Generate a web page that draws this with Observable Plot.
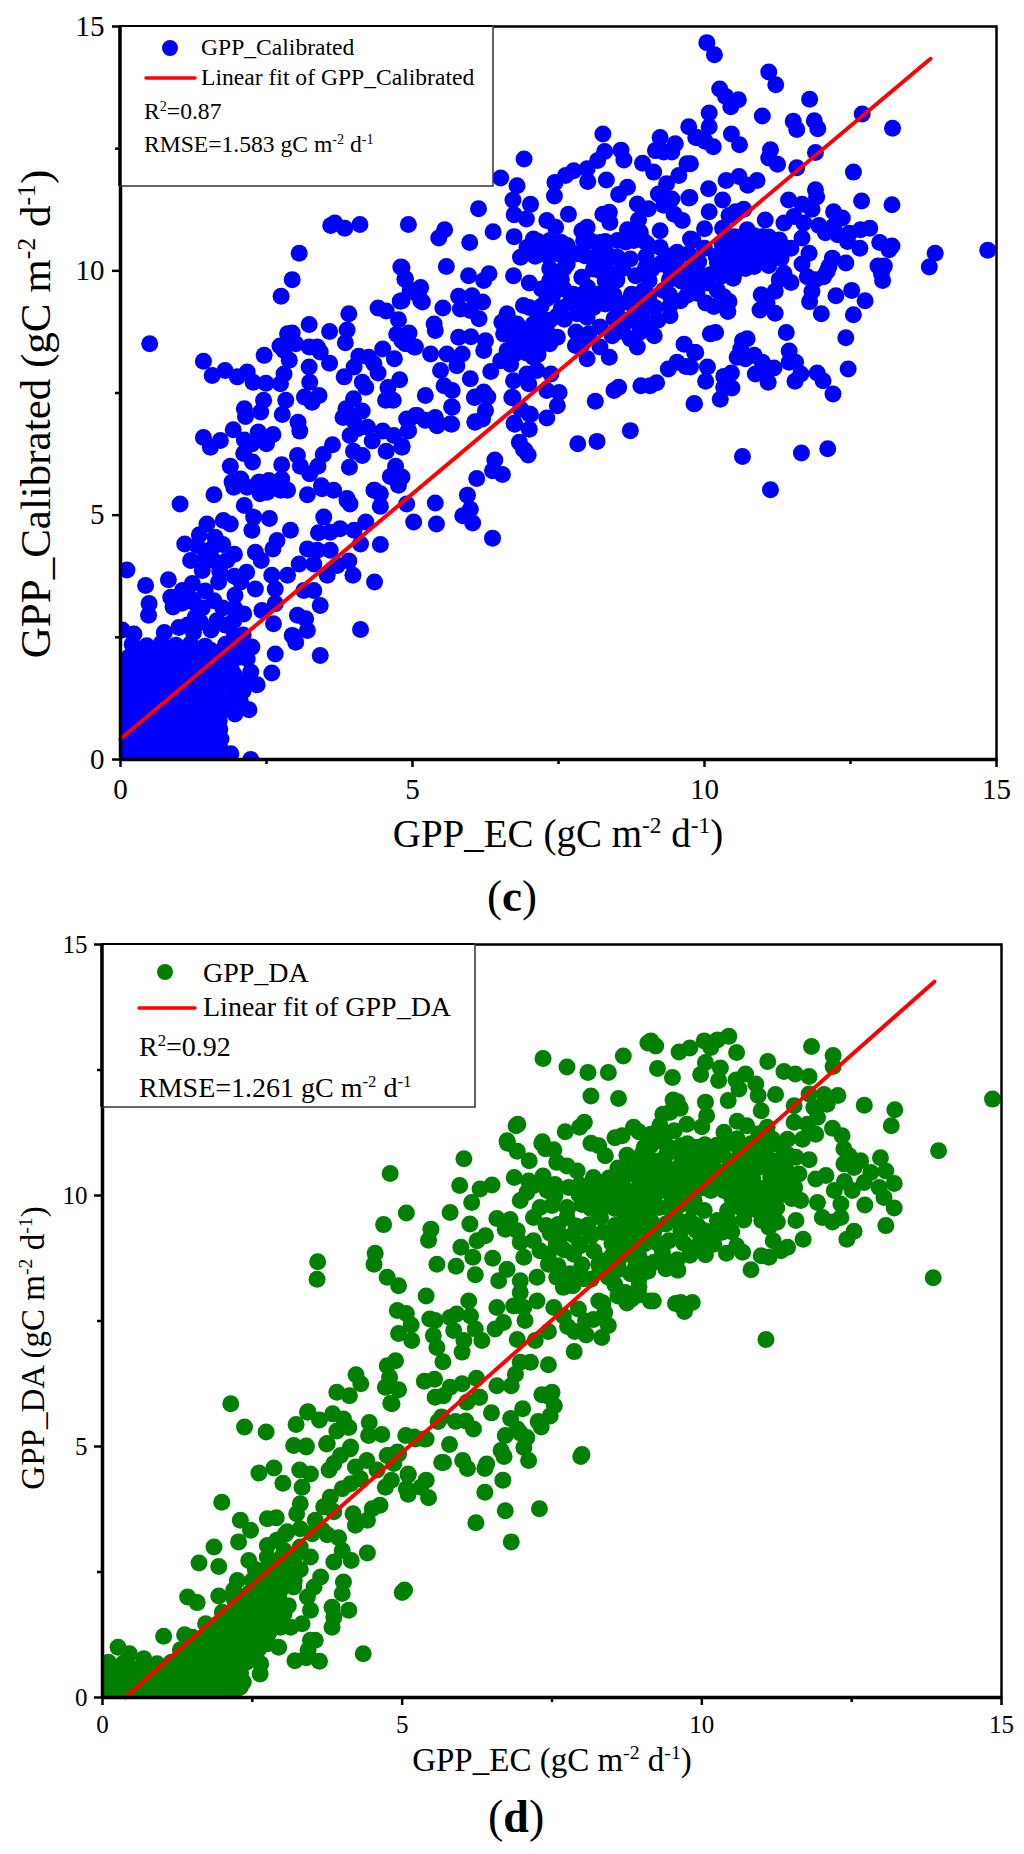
<!DOCTYPE html>
<html><head><meta charset="utf-8">
<script src="https://cdn.jsdelivr.net/npm/d3@7"></script>
<script src="https://cdn.jsdelivr.net/npm/@observablehq/plot@0.6"></script>
<style>
html,body{margin:0;padding:0;background:#fff;width:1024px;height:1854px;overflow:hidden}
#c,#d{position:absolute;left:0}
#c{top:0}#d{top:930px}
.tag{position:absolute;font-family:"Liberation Serif",serif;color:#000;line-height:1}
</style></head><body>
<div id="c"></div><div id="d"></div>
<div class="tag" style="left:487px;top:874px;font-size:45px">(<b>c</b>)</div>
<div class="tag" style="left:488px;top:1794px;font-size:46px">(<b>d</b>)</div>
<script>
const ticks=[0,5,10,15];
const minorTicks=[2.5,7.5,12.5];
const fitCalX=[0,13.87], fitCalY=[0.42,14.34];
const fitDAX=[0.38,13.88], fitDAY=[0,14.26];

const gppCalibrated=[
[0.5,8.51],[1.42,8.15],[1.57,7.86],[1.79,7.96],[2.0,7.83],[2.17,7.93],[2.27,7.72],[2.49,7.7],[2.74,7.69],[2.8,7.89],[2.46,8.27],[2.89,8.17],[2.8,8.37],[2.73,8.46],[2.86,8.71],[2.94,8.73],[3.0,8.51],[2.75,9.48],[2.94,9.82],[3.06,10.36],[3.23,8.9],[3.23,8.44],[3.37,8.44],[3.42,8.34],[3.23,8.03],[3.58,8.11],[3.58,8.76],[3.88,8.79],[3.85,8.53],[3.91,9.12],[3.6,10.93],[3.67,10.98],[3.84,10.87],[4.1,10.95],[4.93,10.95],[4.8,10.08],[4.88,9.84],[4.96,9.6],[5.11,9.6],[5.14,9.39],[4.79,9.38],[4.41,9.24],[4.55,9.18],[4.76,9.0],[4.73,8.7],[4.94,8.73],[4.88,8.51],[5.03,8.44],[4.49,8.4],[4.69,8.2],[4.08,8.25],[4.25,8.23],[4.41,7.91],[4.34,8.1],[4.0,8.03],[3.83,7.83],[4.14,7.72],[4.2,7.62],[4.78,7.77],[4.58,7.61],[4.54,7.35],[4.67,7.35],[3.24,7.72],[3.15,7.42],[3.4,7.45],[3.28,7.31],[2.83,7.35],[2.77,7.06],[2.45,7.35],[2.4,7.11],[2.12,7.18],[2.14,7.02],[3.99,7.38],[3.86,7.18],[4.14,7.13],[3.81,7.0],[3.99,6.94],[4.23,6.8],[4.06,6.77],[3.93,6.63],[4.31,6.52],[4.49,6.72],[4.68,6.63],[4.93,6.73],[4.93,6.94],[5.08,7.04],[4.82,6.39],[4.55,6.31],[3.99,6.31],[4.14,6.22],[3.92,5.98],[3.63,6.44],[3.47,6.24],[3.38,6.0],[3.24,5.85],[3.03,6.22],[3.08,6.0],[2.76,6.03],[3.04,6.9],[3.07,6.72],[1.93,6.75],[1.42,6.59],[1.71,6.53],[1.54,6.39],[2.12,6.54],[2.25,6.46],[2.36,6.7],[2.61,6.65],[2.5,6.46],[2.11,6.26],[2.26,6.09],[1.88,6.0],[2.06,5.74],[1.91,5.68],[2.17,5.57],[2.37,5.68],[2.54,5.71],[2.76,5.74],[2.86,5.51],[2.51,5.47],[1.6,5.42],[1.02,5.23],[3.2,5.42],[3.44,5.6],[3.65,5.51],[3.88,5.34],[4.35,5.51],[4.45,5.44],[4.71,6.0],[4.62,5.79],[4.82,5.78],[4.76,5.61],
[6.91,12.29],[6.51,11.9],[6.79,11.74],[6.72,11.45],[7.02,11.36],[6.74,11.15],[6.95,11.06],[6.13,11.27],[5.55,10.84],[5.45,10.67],[5.98,10.58],[6.38,10.8],[6.74,10.7],[7.07,10.65],[7.3,11.03],[7.45,10.89],[7.67,11.16],[7.43,11.53],[7.44,11.81],[7.62,11.95],[7.76,12.05],[7.99,12.09],[8.0,11.83],[8.17,12.26],[8.29,12.44],[8.57,12.47],[8.62,12.27],[8.26,12.8],[8.32,11.86],[8.68,11.71],[8.53,11.56],[8.94,12.2],[9.13,12.02],[9.24,12.73],[9.5,12.6],[9.16,12.46],[9.3,12.43],[9.44,12.43],[9.85,12.73],[9.7,12.19],[9.56,11.95],[9.35,11.78],[9.21,11.57],[9.73,11.49],[9.44,11.47],[8.85,11.37],[9.04,11.27],[9.3,11.34],[9.48,11.16],[9.62,11.03],[8.37,11.2],[8.26,11.16],[8.38,10.99],[8.87,11.04],[8.68,10.84],[7.99,10.89],[7.9,10.82],[9.24,10.82],[8.9,10.79],[9.02,10.55],[8.79,10.62],[8.51,10.62],[8.21,10.58],[7.93,10.62],[7.65,10.52],[7.3,10.52],[6.96,10.48],[6.85,10.28],[7.19,10.41],[7.48,10.35],[7.82,10.35],[8.33,10.35],[8.51,10.28],[8.73,10.24],[9.24,10.48],[9.53,10.38],[9.76,10.65],[9.73,10.35],[9.9,10.18],[9.24,10.14],[8.99,10.07],[8.82,9.9],[9.7,10.0],[7.48,9.94],[7.65,10.14],[7.9,9.87],[8.21,10.0],[8.45,9.94],[8.39,9.66],[8.21,9.53],[6.73,9.9],[7.0,9.75],[5.58,10.09],[5.96,9.9],[6.31,9.94],[6.22,9.8],[7.21,9.63],[7.59,9.63],[7.93,9.53],[7.3,9.43],[7.7,9.36],[8.02,9.39],[8.3,9.32],[8.68,9.36],[8.96,9.6],[9.3,9.6],[9.59,9.39],[9.41,9.08],[8.96,9.32],[5.79,9.48],[6.02,9.49],[6.2,9.36],[5.82,9.22],[6.14,9.02],[5.99,9.19],[5.52,9.24],[5.14,9.66],[5.17,9.36],[5.03,9.56],[4.82,10.07],[4.87,9.83],[4.82,9.39],[5.37,8.91],[5.39,8.78],[5.79,8.64],[6.0,8.65],[6.25,8.57],[6.22,8.37],[4.93,8.71],[5.05,8.44],[4.82,8.57],[5.31,8.3],[5.59,8.3],[5.85,8.3],[5.76,8.06],[5.48,7.96],[6.62,9.12],[6.53,8.95],[6.9,9.29],[6.56,8.71],[6.79,8.91],[7.07,8.91],[7.48,9.08],[7.82,9.12],[7.99,9.05],[7.3,8.91],[7.48,8.64],[6.96,8.64],[7.19,8.64],[6.73,8.5],[6.62,8.37],[7.79,8.47],[8.02,8.71],[8.21,8.85],[8.45,9.02],[8.42,8.67],[8.79,8.98],[9.02,8.85],[9.14,8.67],[8.73,8.61],[8.85,8.44],[8.21,8.44],[8.37,8.23],[7.99,8.2],[9.65,8.5],[9.83,8.33],[9.68,8.04],[9.53,8.13],[9.38,7.99],[9.18,7.71],[9.07,7.65],[8.91,7.65],[8.53,7.62],[8.45,7.55],[8.13,7.33],[9.82,7.28],[8.73,6.73],[8.16,6.51],[7.83,6.46],[6.51,8.16],[6.34,7.94],[5.99,7.79],[5.54,7.65],[5.68,7.55],[5.22,7.45],[6.22,7.52],[6.07,7.42],[6.29,7.42],[5.68,7.21],[6.25,7.14],[6.07,6.9],[5.65,6.87],[5.39,7.0],[5.22,6.94],[5.42,6.83],[5.05,7.04],[4.9,6.97],[4.93,6.73],[4.82,6.42],[6.68,8.09],[6.73,7.75],[6.7,7.41],[6.96,7.89],[7.07,8.23],[7.13,7.96],[6.99,7.69],[7.37,7.89],[7.3,7.55],[7.51,7.51],[7.48,7.24],[7.0,7.07],[7.3,6.99],[6.74,6.88],[7.0,6.76],[6.83,6.49],[6.93,6.32],
[6.98,6.23],[6.9,6.35],[6.75,6.86],[6.41,6.13],[6.37,5.91],[6.54,5.83],[6.1,5.75],[5.94,5.41],[5.99,5.12],[5.86,4.99],[6.03,4.84],[6.37,4.53],[5.39,5.25],[5.41,4.82],[5.39,6.97],[5.67,6.86],[5.67,7.22],[6.07,6.91],[6.2,6.97],[6.06,7.41],[6.72,7.41],[7.02,7.06],[6.85,7.17],
[10.04,14.67],[10.17,14.42],[11.1,14.07],[11.22,13.81],[10.26,13.72],[10.36,13.57],[10.58,13.5],[10.45,13.36],[11.8,13.51],[10.08,13.23],[10.99,13.17],[11.52,13.06],[11.58,12.89],[11.88,13.07],[11.94,12.91],[12.7,13.21],[13.22,12.92],[10.08,12.95],[9.73,12.95],[9.87,12.73],[10.01,12.65],[10.15,12.54],[10.46,12.8],[10.6,12.58],[11.13,12.48],[11.1,12.31],[11.25,12.18],[11.9,12.42],[11.58,12.11],[12.55,12.02],[10.37,11.85],[10.59,11.93],[10.74,11.75],[10.9,11.85],[9.76,12.19],[10.07,11.68],[9.75,11.5],[10.31,11.45],[11.9,11.66],[11.92,11.51],[11.44,11.45],[11.67,11.36],[11.84,11.26],[12.69,11.43],[13.21,11.35],[10.08,11.21],[10.42,11.13],[10.53,11.21],[10.67,11.26],[11.04,11.04],[11.36,10.98],[11.53,11.11],[11.7,10.98],[12.21,11.21],[12.36,11.08],[12.21,10.91],[11.96,10.93],[12.07,10.78],[10.0,10.86],[10.31,10.87],[9.8,10.63],[10.0,10.46],[10.73,10.84],[10.51,10.7],[10.99,10.7],[11.28,10.63],[11.67,10.67],[12.28,10.74],[12.48,10.77],[12.67,10.84],[12.83,10.87],[13.0,10.58],[13.21,10.51],[13.16,10.43],[12.66,10.46],[12.45,10.6],[12.19,10.26],[12.42,10.16],[11.79,10.36],[11.48,10.46],[11.18,10.43],[10.9,10.5],[10.62,10.5],[10.34,10.36],[10.22,10.16],[10.45,10.22],[10.7,10.05],[10.99,10.22],[11.31,10.26],[11.67,10.14],[12.13,10.09],[12.1,9.99],[11.76,9.88],[11.9,9.82],[12.04,9.88],[10.49,9.85],[10.34,9.99],[11.36,9.95],[11.28,9.82],[11.48,9.76],[11.21,9.58],[11.84,9.58],[11.8,9.37],[10.97,9.51],[10.95,9.2],[11.07,9.34],[11.21,9.13],[12.52,9.6],[12.25,9.49],[12.75,9.39],[12.0,9.12],[12.55,9.1],[13.05,9.8],[12.97,10.1],[13.08,10.1],[13.03,9.95],
[13.95,10.36],[13.85,10.08],[14.85,10.42],
[10.1,8.71],[10.19,8.74],[9.85,8.33],[10.05,8.03],[10.02,7.74],[9.83,7.28],[10.27,7.37],[10.47,7.6],[10.33,7.62],[10.33,7.84],[10.46,7.91],[10.65,8.57],[10.73,8.61],[10.62,8.4],[10.56,8.23],[10.7,8.2],[10.85,8.27],[10.99,8.13],[10.87,7.89],[11.09,7.72],[11.19,8.01],[11.05,7.93],[11.4,8.74],[11.45,8.36],[11.45,8.13],[11.56,8.13],[11.65,7.89],[11.55,7.74],[11.93,7.91],[12.03,7.75],[12.2,7.48],[12.42,8.63],[12.46,7.99],[9.76,8.03],[10.65,6.2],[11.13,5.52],[11.66,6.27],[12.11,6.36],
[9.76,9.6],[9.93,9.75],[10.05,9.75],[10.22,9.6],[10.33,9.47],[10.42,9.37],[10.4,9.17],[10.16,9.27],[10.02,9.34],[9.87,9.54],
[0.11,3.88],[0.43,3.56],[0.82,3.68],[0.49,3.19],[0.48,2.95],[0.03,2.65],[0.23,2.57],[2.12,5.2],[1.48,4.82],[1.76,4.89],[1.88,4.82],[1.62,4.55],[1.1,4.41],[1.31,4.38],[1.2,4.07],[1.59,4.07],[1.82,4.07],[1.4,3.87],[1.68,3.63],[1.06,3.46],[1.23,3.6],[0.86,3.32],[0.9,3.12],[1.25,3.22],[1.6,3.25],[1.28,2.91],[1.37,2.81],[1.65,2.84],[1.96,3.36],[2.11,2.98],[1.94,2.84],[2.16,3.83],[2.06,3.63],[2.31,3.49],[2.25,4.69],[2.28,4.96],[2.55,4.93],[2.91,4.69],[2.68,4.48],[2.61,4.31],[2.31,4.24],[2.41,4.07],[2.59,3.77],[2.86,3.77],[2.65,3.49],[2.42,3.05],[2.65,3.19],[2.62,2.78],[3.03,2.95],[3.17,2.88],[3.2,2.64],[3.0,2.4],[2.94,2.54],[2.65,2.16],[2.59,1.77],[2.34,1.53],[2.2,1.02],[1.96,0.93],[2.23,0.0],[2.17,2.06],[2.23,1.79],[1.94,1.34],[1.69,0.8],[1.72,0.42],[1.89,0.12],[3.42,2.13],[4.11,2.66],[4.35,3.63],[3.42,3.15],[3.31,3.46],[3.14,3.46],[3.06,4.0],[3.2,4.31],[3.37,4.28],[3.59,4.28],[3.39,4.64],[3.59,4.65],[3.48,4.96],[3.76,4.72],[4.2,4.86],[4.0,4.69],[4.11,4.41],[4.45,4.4],[3.91,4.06],[3.98,3.77],[3.54,3.77],[3.31,4.0],[3.71,3.97],[3.45,5.54],[3.88,5.3],[3.93,5.23],[4.34,5.51],[4.45,5.18],[4.9,5.23],[5.02,4.86],[2.74,5.51],[2.39,5.44],[1.94,5.57]
];
const gppCalibratedCluster=[
[0.05,0.1],[0.3,0.13],[0.55,0.08],[0.8,0.12],[1.05,0.09],[1.3,0.14],[1.55,0.07],[1.75,0.11],[0.1,0.36],[0.35,0.33],[0.6,0.38],[0.85,0.34],[1.1,0.37],[1.35,0.32],[1.6,0.36],[0.05,0.6],[0.3,0.63],[0.55,0.58],[0.8,0.62],[1.05,0.59],[1.3,0.64],[1.5,0.6],[0.1,0.86],[0.35,0.83],[0.6,0.88],[0.85,0.84],[1.1,0.87],[1.35,0.82],[1.6,0.86],[0.05,1.1],[0.3,1.13],[0.55,1.08],[0.8,1.12],[1.05,1.09],[1.3,1.14],[1.55,1.07],[1.8,1.11],[0.1,1.36],[0.35,1.33],[0.6,1.38],[0.85,1.34],[1.1,1.37],[1.35,1.32],[1.6,1.36],[1.85,1.6],[0.05,1.6],[0.3,1.63],[0.55,1.58],[0.8,1.62],[1.05,1.59],[1.3,1.64],[1.55,1.57],[1.8,1.61],[2.05,1.58],[0.1,1.86],[0.35,1.83],[0.6,1.88],[0.85,1.84],[1.1,1.87],[1.35,1.82],[1.6,1.86],[1.9,1.84],[0.15,2.1],[0.4,2.13],[0.65,2.08],[0.9,2.12],[1.15,2.09],[1.4,2.14],[1.65,2.07],[1.9,2.11],[0.2,2.36],[0.45,2.33],[0.7,2.38],[0.95,2.34],[1.2,2.37],[1.45,2.32],[1.8,2.36],[2.0,2.3],
[0.2,0.22],[0.45,0.23],[0.7,0.21],[0.95,0.24],[1.2,0.22],[1.45,0.23],[1.7,0.25],[0.2,0.48],[0.45,0.47],[0.7,0.49],[0.95,0.46],[1.2,0.48],[1.45,0.47],[0.2,0.72],[0.45,0.74],[0.7,0.71],[0.95,0.73],[1.2,0.72],[1.45,0.74],[1.7,0.62],[0.2,0.98],[0.45,0.97],[0.7,0.99],[0.95,0.98],[1.2,0.96],[1.45,0.98],[1.7,0.97],[0.2,1.22],[0.45,1.23],[0.7,1.21],[0.95,1.24],[1.2,1.22],[1.45,1.23],[1.7,1.22],[0.2,1.48],[0.45,1.47],[0.7,1.49],[0.95,1.46],[1.2,1.48],[1.45,1.47],[1.7,1.49],[1.95,1.55],[0.2,1.72],[0.45,1.73],[0.7,1.74],[0.95,1.72],[1.2,1.71],[1.45,1.73],[1.7,1.72],[1.95,1.73],[0.2,1.98],[0.5,1.97],[0.75,1.99],[1.0,1.98],[1.25,1.96],[1.5,1.98],[1.75,1.97],[0.3,2.22],[0.55,2.23],[0.8,2.21],[1.05,2.24],[1.3,2.22],[1.55,2.23],[1.8,2.22],
[1.35,4.6],[1.55,4.3],[1.75,4.4],[1.95,4.2],[1.45,4.15],[1.7,3.85],[1.95,3.75],[1.2,3.3],[1.45,3.45],[1.75,3.1],[1.95,3.1],[1.4,3.1],[1.05,3.2],[1.15,2.75],[1.8,2.75],[2.1,2.55],[1.95,2.55],[1.55,2.65],[1.0,2.7],[0.75,2.6],[1.25,2.6],[2.25,2.3],[2.05,2.1],[2.2,1.6],[2.1,1.4],[2.05,1.2]
];
const gppCalibratedDense=[
[7.15,10.6],[7.35,10.62],[7.55,10.58],[8.05,10.61],[8.3,10.6],[8.65,10.59],[8.95,10.62],[7.1,10.3],[7.3,10.32],[7.6,10.29],[7.95,10.31],[8.15,10.3],[8.4,10.28],[9.0,10.3],[9.35,10.31],[9.55,10.29],[7.35,10.05],[7.6,10.06],[8.1,10.04],[8.3,10.07],[8.6,10.05],[9.1,10.04],[9.4,10.06],[9.55,10.05],[7.35,9.8],[7.55,9.82],[8.3,9.79],[8.5,9.81],[9.05,9.8],[9.4,9.82],[9.6,9.79],[9.85,9.8],[7.4,9.5],[7.75,9.52],[8.0,9.66],[8.45,9.5],[8.75,9.52],[9.05,9.49],[9.4,9.51],[9.7,9.5],[7.0,9.25],[7.2,9.27],[7.55,9.24],[7.85,9.26],[8.1,9.25],[8.5,9.24],[8.8,9.26],[9.15,9.25],[9.4,9.27],[6.65,9.0],[7.15,9.02],[7.35,8.99],[7.6,9.01],[8.6,9.0],[8.95,9.02],[9.2,8.99],[6.7,8.75],[6.9,8.77],[7.1,8.74],[7.3,8.76],[7.8,8.75],[8.45,8.74],[8.6,8.76],[8.9,8.75],[6.85,8.5],[7.0,8.52],[7.2,8.49],[7.35,8.51],[7.9,8.48],[6.75,8.3],[6.95,8.32],[7.15,8.29],
[10.65,10.7],[10.85,10.72],[11.1,10.69],[10.3,10.55],[10.45,10.57],[10.75,10.54],[11.05,10.56],[11.3,10.55],[10.2,10.3],[10.5,10.32],[10.75,10.29],[11.05,10.31],[10.35,10.1],[10.55,10.12],[10.85,10.09],[11.1,10.11],[10.3,9.9],[10.5,9.92],[9.95,9.9],[10.1,9.92]
];

const gppDA=[
[9.15,13.08],[9.23,12.98],[9.62,12.86],[9.8,12.94],[10.04,13.08],[10.26,13.1],[10.45,13.17],[10.15,12.95],[10.58,12.85],[10.06,12.65],[10.31,12.54],[9.98,12.41],[10.28,12.29],[11.1,12.67],[11.83,12.97],[12.19,12.79],[12.19,12.57],[11.37,12.47],[11.56,12.42],[11.79,12.37],[9.26,12.53],[9.51,12.35],[10.73,12.42],[10.57,12.3],[10.9,12.22],[10.62,12.12],[10.94,11.99],[11.23,12.01],[10.44,11.89],[10.06,11.86],[9.59,11.87],[9.52,11.9],[9.47,11.66],[10.08,11.59],[10.0,11.37],[10.99,11.69],[10.59,11.48],[10.37,11.26],[11.79,12.02],[12.04,12.01],[12.27,11.99],[11.54,11.79],[11.87,11.76],[12.09,11.82],[12.71,11.8],[13.22,11.71],[13.16,11.39],[13.95,10.89],[14.85,11.92],[13.86,8.36],[11.93,11.56],[11.54,11.46],[11.76,11.42],[11.09,11.36],[10.95,11.23],[11.9,11.22],[12.18,11.34],[12.34,11.19],[11.68,11.12],[11.43,11.12],[11.18,11.12],[12.37,10.93],[11.57,10.76],[11.79,10.71],[12.98,10.75],[12.65,10.69],[12.46,10.79],[12.37,10.63],[12.54,10.56],[12.82,10.46],[13.07,10.49],[13.21,10.24],[12.96,10.16],[13.04,9.96],[13.21,9.75],[13.07,9.4],[12.72,9.81],[12.38,10.28],[12.71,10.26],[12.07,10.4],[11.9,10.33],[12.21,10.1],[12.51,10.1],[11.65,9.9],[11.93,9.86],[12.32,9.83],[12.01,9.56],[12.18,9.47],[12.32,9.56],[11.57,9.5],[12.54,9.29],[12.42,9.13],[11.69,9.13],[11.26,9.47],[11.12,9.37],[11.19,9.1],[11.43,8.97],[11.32,8.9],[10.99,8.8],[11.12,8.77],[10.82,8.52],[10.68,8.87],[10.58,9.0],[10.41,8.85],[10.06,8.82],[10.2,9.03],[10.34,9.27],[10.15,9.23],[10.26,9.5],[10.04,9.7],[9.93,9.4],[10.43,9.7],[10.93,9.7],[11.15,9.83],[11.43,10.03],[11.2,10.1],[10.93,10.1],[10.65,10.03],[10.37,10.1],[10.15,10.1],[9.87,9.9],[9.65,9.3],[9.45,9.1],[9.34,8.9],[9.59,8.72],[9.4,8.54],[9.2,8.67],[8.98,8.7],[8.95,8.17],[9.19,7.9],[9.56,7.85],[9.65,7.87],[9.84,7.87],[9.71,7.69],[9.4,9.43],[9.62,9.8],[9.29,9.76],[9.09,9.7],[9.31,10.1],[9.09,10.1],[9.59,10.16],[9.87,10.23],[10.18,10.3],[10.48,10.3],[10.7,10.4],[11.15,10.36],[11.43,10.3],[11.62,10.43],[11.26,10.69],[11.07,10.83],[10.82,10.76],[10.54,10.69],[10.2,10.83],[9.93,10.96],[9.76,11.03],[9.54,11.29],[9.15,11.22],[9.04,10.96],[9.31,11.16],[9.54,10.93],[9.2,10.69],[9.7,10.69],[10.04,10.63],[9.48,10.5],[9.2,10.36],[10.59,11.13],[10.82,11.03],[10.37,10.99],
[6.93,11.42],[7.96,11.36],[6.75,11.09],[6.92,10.88],[7.12,10.69],[7.34,11.07],[7.39,10.93],[7.53,10.91],[6.03,10.73],[4.8,10.44],[5.96,10.2],[6.5,10.21],[6.3,10.13],[6.16,9.86],[6.87,10.36],[7.11,10.29],[7.35,10.39],[7.58,10.66],[7.75,10.59],[7.92,10.49],[8.28,10.99],[8.39,10.79],[8.67,11.19],[8.86,11.36],[6.97,9.9],[7.08,10.06],[7.42,10.1],[7.3,9.76],[7.19,9.56],[7.78,10.16],[7.75,9.76],[8.19,10.36],[8.58,10.23],[8.42,9.96],[8.81,10.49],[5.8,9.66],[5.07,9.65],[4.69,9.42],[5.48,9.33],[5.44,9.11],[6.13,9.43],[6.39,9.2],[6.25,9.1],[5.98,8.97],[6.18,8.77],[6.51,8.75],[6.58,9.54],[6.8,9.52],[6.72,9.33],[6.92,9.3],[7.19,9.1],[7.47,9.25],[6.97,9.07],[7.03,8.77],[7.44,8.83],[7.75,9.56],[8.03,9.37],[8.31,9.56],[8.64,9.37],[7.97,9.0],[7.86,8.83],[8.86,9.03],[8.39,8.7],[8.28,8.63],[4.55,8.85],[4.53,8.63],[3.59,8.68],[3.58,8.33],[5.58,8.63],[5.9,8.59],[6.22,8.42],[4.75,8.37],[4.94,8.2],[5.4,8.0],[6.61,8.3],[6.75,8.53],[6.97,8.3],[6.97,8.07],[7.25,8.37],[7.44,8.63],[7.58,8.37],[7.69,8.17],[7.8,8.44],[8.03,8.34],[8.44,8.37],[8.81,8.44],[8.72,8.07],[8.83,7.94],[6.11,7.9],[6.58,7.77],[6.86,7.8],[7.25,7.9],[7.03,7.77],[7.05,7.51],[7.53,7.77],[7.94,7.74],[7.69,7.6],[8.28,7.9],[8.38,7.67],[8.19,7.53],[8.44,7.41],[8.33,7.17],[7.88,7.29],[8.07,7.22],[7.87,6.89],[4.92,7.71],[5.07,7.65],[5.15,7.42],[4.94,7.25],[5.16,7.11],[5.46,7.54],[5.55,7.51],[5.52,7.21],[5.58,6.97],[5.68,6.69],[5.8,7.57],[5.91,7.64],[6.14,7.6],[5.86,7.31],[6.03,7.11],[6.0,6.88],[6.22,7.34],[6.33,7.11],[6.55,7.34],[6.69,7.47],[6.92,7.13],[7.22,7.11],[7.44,7.29],[6.97,6.68],[7.14,6.68],[7.44,6.63],[6.89,6.44],[6.82,6.21],[4.89,6.71],[4.75,6.61],[4.79,6.38],[4.94,6.13],[4.72,6.18],[4.81,5.86],[4.23,6.43],[4.31,6.25],[3.91,6.08],[4.12,6.01],[5.37,6.3],[5.54,6.34],[5.55,5.98],[5.69,6.01],[5.8,6.18],[6.0,6.25],[6.24,6.36],[6.29,5.98],[6.08,5.88],[7.33,6.03],[7.5,6.08],[7.54,5.81],[7.47,5.61],[7.32,5.39],[7.01,5.75],[6.81,5.56],[6.49,5.67],[5.66,5.59],[6.06,5.51],[6.19,5.35],[6.92,5.35],[6.72,5.22],[7.08,5.18],[7.03,4.98],[6.65,4.92],[8.0,4.84],[3.42,5.68],[3.62,5.53],[3.84,5.65],[4.02,5.55],[3.91,5.31],[4.11,5.38],[4.45,5.48],[4.44,5.22],[4.66,5.24],[5.22,5.15],[5.37,5.15],[3.4,4.99],[3.74,5.05],[4.13,4.95],[3.97,4.82],[4.77,4.82],[4.94,4.85],[5.66,4.68],[6.01,4.72],[6.41,4.65],[7.11,4.72],[4.41,4.72],
[2.14,5.85],[2.37,5.39],[2.73,5.29],[3.23,5.44],[3.43,5.69],[4.83,5.85],[5.2,5.19],[3.75,5.06],[3.19,5.02],[3.4,5.01],[4.14,4.99],[3.86,4.66],[3.78,4.53],[4.22,4.59],[4.75,4.82],[4.92,4.89],[4.86,4.66],[4.58,4.53],[4.3,4.36],[4.14,4.26],[4.72,4.19],[4.82,4.33],[5.1,4.43],[5.07,4.16],[5.31,4.19],[2.61,4.47],[2.86,4.57],[3.01,4.27],[3.29,4.53],[3.47,4.45],[3.33,4.19],[3.3,3.86],[3.24,3.66],[3.8,3.99],[4.0,4.16],[3.69,3.8],[4.63,3.83],[4.5,3.76],[4.18,3.66],[4.42,3.53],[4.22,3.43],[3.86,3.7],[3.55,3.53],[3.3,3.36],[3.67,3.33],[1.99,3.89],[2.3,3.53],[2.47,3.33],[2.75,3.56],[2.9,3.58],[3.08,3.3],[2.27,3.1],[1.86,3.0],[1.61,2.68],[1.94,2.61],[2.75,3.03],[2.91,3.13],[2.44,2.73],[2.69,2.53],[2.25,2.33],[3.03,2.93],[3.3,3.0],[3.47,2.8],[3.64,2.4],[3.53,2.2],[3.42,2.0],[3.47,1.74],[3.33,1.47],[3.94,3.18],[4.0,2.93],[4.15,2.73],[3.86,2.7],[4.42,2.88],[4.02,2.3],[4.0,2.07],[3.83,1.8],[4.11,1.74],[3.86,1.6],[3.83,1.4],[5.04,2.14],[1.42,2.0],[1.58,1.89],[1.94,2.02],[2.19,2.14],[2.64,2.07],[2.97,2.14],[3.19,2.2],[1.72,1.47],[2.47,1.67],[2.8,1.8],[3.03,1.67],[2.19,1.47],[2.64,1.4],[2.97,1.4],[3.14,1.4],[1.02,1.22],[1.37,1.25],[0.26,1.0],[0.45,0.87],[0.69,0.77],[0.91,0.67],[3.47,1.14],[3.55,1.14],[3.43,0.94],[3.21,0.73],[3.4,0.79],[3.62,0.72],[4.35,0.87],[2.94,1.0],[2.63,0.47],[2.64,0.67],[2.3,0.21],[2.19,0.61],[2.3,0.48],[1.58,1.14],[1.91,1.07],[1.25,0.74],[1.47,0.81],[1.75,0.81],[2.02,0.81],[2.41,0.94],[2.75,1.07],
[7.35,12.73],[7.75,12.56],[8.1,12.45],[8.69,12.78],[9.1,13.04],[8.44,12.45],[8.61,11.93],[8.15,11.98],[8.04,11.46],[7.72,11.27],[7.33,11.04],[6.9,11.39],[6.76,11.04],[8.15,11.04],[8.55,11.15],[8.95,11.27],[9.35,11.62],[9.64,11.74],[8.75,10.45],[9.14,10.56],[8.35,10.21],[7.96,10.21],[7.76,9.74],[8.15,9.74],[8.55,9.74],[8.95,9.98],[9.35,10.21],[7.57,9.04],[7.96,9.04],[8.35,9.27],[8.75,9.27],[9.14,9.27],[8.15,8.33],[8.55,8.56],[8.95,8.33],[9.35,8.8],[8.35,7.86],[8.06,7.5],[8.75,7.86],[7.76,7.39],[9.14,7.9],[11.07,7.13],
[6.82,3.1],[7.29,3.76],[6.72,3.72],[6.23,3.48],[7.98,4.8],[6.7,4.8],[6.38,4.09],[6.68,4.33],[6.97,5.27],[7.27,5.5],[7.47,5.98],[5.0,2.09],[6.09,4.56],[5.79,5.04],[5.44,3.98],[5.4,4.33],[5.1,4.45],[5.1,4.05],[5.06,5.22],[5.4,5.15],[5.6,5.5],[5.89,5.5],[6.29,5.98],[6.58,6.21],[5.69,4.68],[6.38,4.56]
];
const gppDACluster=[
[0.05,0.1],[0.3,0.12],[0.55,0.09],[0.8,0.13],[1.05,0.1],[1.3,0.11],[1.55,0.08],[1.8,0.12],[2.0,0.1],[2.2,0.09],[0.1,0.31],[0.35,0.29],[0.6,0.32],[0.85,0.3],[1.1,0.28],[1.35,0.31],[1.6,0.3],[1.85,0.33],[2.1,0.29],[2.35,0.31],[0.05,0.5],[0.3,0.52],[0.55,0.49],[0.8,0.51],[1.05,0.48],[1.3,0.5],[1.55,0.52],[1.8,0.49],[2.05,0.51],[2.3,0.5],[0.1,0.7],[0.35,0.68],[0.65,0.6],[0.9,0.55],[1.15,0.7],[1.4,0.68],[1.65,0.71],[1.9,0.69],[2.15,0.72],[2.4,0.7],[1.3,0.95],[1.55,0.94],[1.8,0.96],[2.05,0.95],[2.3,0.93],[2.6,0.96],[1.5,1.2],[1.75,1.22],[2.0,1.19],[2.25,1.21],[2.5,1.2],[2.75,1.22],[1.9,1.45],[2.15,1.46],[2.4,1.44],[2.65,1.46],[2.9,1.45],[2.0,1.7],[2.25,1.71],[2.5,1.69],[2.75,1.7],[2.2,1.95],[2.45,1.96],[2.7,1.94],[2.95,1.95],[2.6,2.2],[2.85,2.21],
[0.2,0.2],[0.45,0.21],[0.7,0.2],[0.95,0.19],[1.2,0.2],[1.45,0.21],[1.7,0.2],[1.95,0.19],[2.2,0.2],[0.2,0.4],[0.45,0.41],[0.7,0.4],[0.95,0.39],[1.2,0.4],[1.45,0.41],[1.7,0.4],[1.95,0.39],[2.2,0.4],[0.2,0.6],[0.45,0.61],[1.2,0.6],[1.45,0.61],[1.7,0.6],[1.95,0.59],[2.2,0.6],[1.4,0.82],[1.65,0.83],[1.9,0.82],[2.15,0.84],[2.45,0.82],[1.45,1.08],[1.7,1.09],[1.95,1.07],[2.2,1.08],[2.45,1.09],[2.7,1.07],[1.8,1.33],[2.05,1.34],[2.3,1.32],[2.55,1.33],[2.8,1.34],[2.1,1.58],[2.35,1.59],[2.6,1.57],[2.85,1.58],[2.3,1.83],[2.55,1.84],[2.85,1.82],[3.1,1.83],[2.45,2.08],[2.7,2.09],[2.9,2.07],[2.5,2.33],[2.75,2.34],[2.95,2.32],[3.2,2.33],[2.55,2.55],[2.85,2.56],[3.05,2.54],[3.3,2.55],[2.75,2.8],[3.0,2.81],[3.2,2.79],[3.05,3.25],[3.5,3.26],[3.75,3.24]
];
const gppDADense=[
[9.3,11.4],[9.75,11.42],[10.75,11.39],[9.15,11.0],[9.4,11.02],[9.65,10.99],[10.05,11.01],[10.25,11.0],[10.6,10.98],[10.95,11.01],[11.3,11.0],[8.75,10.8],[9.0,10.82],[9.4,10.79],[9.65,10.81],[9.85,10.8],[10.05,10.78],[10.35,10.81],[10.65,10.8],[10.95,10.79],[11.45,10.8],[8.6,10.55],[8.85,10.57],[9.05,10.54],[9.35,10.56],[9.6,10.55],[9.85,10.53],[10.2,10.56],[10.45,10.55],[10.7,10.54],[10.95,10.56],[11.15,10.55],[11.4,10.53],[8.45,10.35],[8.7,10.37],[8.95,10.34],[9.45,10.36],[9.7,10.35],[10.0,10.33],[10.3,10.36],[10.55,10.35],[10.85,10.34],[11.3,10.36],[8.7,10.15],[8.95,10.17],[9.45,10.14],[9.75,10.16],[10.0,10.15],[10.6,10.13],[10.8,10.16],[11.05,10.15],[11.35,10.14],[11.55,10.16],[8.75,9.95],[9.2,9.97],[9.5,9.94],[9.75,9.96],[10.5,9.95],[10.75,9.93],[11.0,9.96],[11.25,9.95],[11.5,9.94],[8.8,9.75],[9.0,9.77],[9.45,9.74],[9.85,9.76],[10.65,9.75],[10.8,9.73],[11.05,9.76],[11.25,9.75],[8.7,9.5],[8.95,9.52],[9.15,9.49],[9.6,9.51],[9.8,9.5],[10.45,9.48],[10.7,9.51],[11.0,9.5],[11.1,9.49],[8.55,9.3],[8.9,9.32],[9.2,9.29],[9.9,9.31],[10.05,9.3],[10.5,9.28],[8.5,9.05],[8.65,9.07],[9.05,9.04],[9.25,9.06],[9.7,9.05],[9.95,9.03],[8.5,8.8],[8.7,8.82],[8.95,8.79],[9.8,8.81],[8.3,8.5],[8.6,8.52],[9.1,8.49],[9.6,8.51],
[7.2,10.2],[7.55,10.22],[8.0,10.19],[8.2,10.21],[8.4,10.2],[7.55,10.0],[7.95,10.02],[8.2,9.99],[8.65,10.01],[7.5,9.8],[8.0,9.82],[8.35,9.79],[8.65,9.81],[7.4,9.4],[7.6,9.42],[7.9,9.39],[8.1,9.41],[8.55,9.4],[8.85,9.38],[7.65,9.2],[7.85,9.22],[8.15,9.19],[8.5,9.21],[7.3,8.9],[7.7,8.92],[8.2,8.89],[8.55,8.91],[8.7,8.9],[7.6,8.6],[8.0,8.62],[8.6,8.59],[8.9,8.61],[7.85,8.2],[8.55,8.22],[8.6,8.0],[8.95,8.02]
];

const serif='"Liberation Serif","Times New Roman",serif';
function rows(xs,ys){return xs.map((x,i)=>({x,y:ys[i]}));}

function panel(host,o){
  const chart=Plot.plot({
    width:1024,height:o.height,
    marginLeft:o.ml,marginRight:o.mr,marginTop:o.mt,marginBottom:o.mb,
    style:{background:"transparent",fontFamily:serif,color:"#000",overflow:"visible"},
    x:{domain:[0,15]},y:{domain:[0,15]},
    marks:[
      Plot.dot(o.data,{x:d=>d[0],y:d=>d[1],r:8.5,fill:o.color,stroke:"none",clip:true}),
      Plot.line(rows(o.fitX,o.fitY),{x:"x",y:"y",stroke:"#ff0000",strokeWidth:4,strokeLinecap:"round"}),
      Plot.frame({stroke:"#000",strokeWidth:2.5}),
      Plot.ruleX([0],{stroke:"#000",strokeWidth:o.axisW}),
      Plot.ruleY([0],{stroke:"#000",strokeWidth:o.axisW}),
      Plot.axisX({ticks:ticks,tickSize:8,tickPadding:o.tp,fontSize:o.fs,strokeWidth:2.5,label:null,tickFormat:d=>String(d)}),
      Plot.axisX({ticks:minorTicks,tickSize:5,strokeWidth:2.5,label:null,tickFormat:()=>""}),
      Plot.axisY({ticks:ticks,tickSize:8,tickPadding:o.tp-3,fontSize:o.fs,strokeWidth:2.5,label:null,tickFormat:d=>String(d)}),
      Plot.axisY({ticks:minorTicks,tickSize:5,strokeWidth:2.5,label:null,tickFormat:()=>""})
    ]
  });
  document.getElementById(host).appendChild(chart);
  const svg=d3.select(chart);

  // text with superscripts: parts are [string, isSuper]
  function rich(x,y,size,parts,opt={}){
    const t=svg.append("text").attr("x",x).attr("y",y).attr("font-size",size)
      .attr("font-family",serif).attr("fill","#000").attr("text-anchor",opt.anchor||"start");
    if(opt.rotate)t.attr("transform",`rotate(${opt.rotate} ${x} ${y})`);
    let wasSup=false;
    parts.forEach(([s,sup])=>{
      const sp=t.append("tspan").text(s);
      if(sup){sp.attr("font-size",size*0.6).attr("dy",-size*0.36);}
      else if(wasSup){sp.attr("dy",size*0.36);}
      wasSup=sup;
    });
    return t;
  }
  const unit=[[" (gC m"],["-2",1],[" d"],["-1",1],[")"]];
  rich(o.xLab[0],o.xLab[1],o.xLab[2],[["GPP_EC"],...unit],{anchor:"middle"});
  rich(o.yLab[0],o.yLab[1],o.yLab[2],[[o.name],...unit],{anchor:"middle",rotate:-90});

  // legend
  const L=o.leg;
  svg.append("rect").attr("x",L.x).attr("y",L.y).attr("width",L.w).attr("height",L.h)
    .attr("fill","#fff").attr("stroke","#333").attr("stroke-width",1.5);
  svg.append("rect").attr("x",L.x-1).attr("y",L.y-1).attr("width",L.w).attr("height",2).attr("fill","#000");
  svg.append("rect").attr("x",L.x-o.axisW/2).attr("y",L.y).attr("width",o.axisW).attr("height",L.h).attr("fill","#000");
  svg.append("circle").attr("cx",L.dotX).attr("cy",L.dotY).attr("r",8).attr("fill",o.color);
  svg.append("line").attr("x1",L.lx1).attr("x2",L.lx2).attr("y1",L.lineY).attr("y2",L.lineY)
    .attr("stroke","#f00").attr("stroke-width",3.5).attr("stroke-linecap","round");
  rich(L.tx,L.b1,L.fs,[[o.name]]);
  rich(L.tx,L.b2,L.fs,[["Linear fit of "+o.name]]);
  rich(L.sx,L.b3,L.fs,[["R"],["2",1],["="+o.r2]]);
  rich(L.sx,L.b4,L.fs,[["RMSE="+o.rmse+" gC m"],["-2",1],[" d"],["-1",1]]);
}

panel("c",{data:[...gppCalibrated,...gppCalibratedCluster,...gppCalibratedDense],color:"#0000ff",name:"GPP_Calibrated",r2:"0.87",rmse:"1.583",
  fitX:fitCalX,fitY:fitCalY,height:930,ml:120,mr:28,mt:26,mb:171,fs:29,tp:11,axisW:3.5,
  xLab:[558,847,39],yLab:[50,414,43],
  leg:{x:120,y:26,w:373,h:160,dotX:170,dotY:48,lx1:146,lx2:195,lineY:78,tx:201,b1:55,b2:85,sx:144,b3:119,b4:152,fs:23.6}});
panel("d",{data:[...gppDA,...gppDACluster,...gppDADense],color:"#008000",name:"GPP_DA",r2:"0.92",rmse:"1.261",
  fitX:fitDAX,fitY:fitDAY,height:924,ml:102,mr:23,mt:14,mb:157,fs:25,tp:10,axisW:3.5,
  xLab:[552,841,33],yLab:[44,418,33],
  leg:{x:102,y:14,w:373,h:163,dotX:165,dotY:42,lx1:139,lx2:195,lineY:78,tx:203,b1:52,b2:86,sx:139,b3:126,b4:167,fs:28}});
</script>
</body></html>
